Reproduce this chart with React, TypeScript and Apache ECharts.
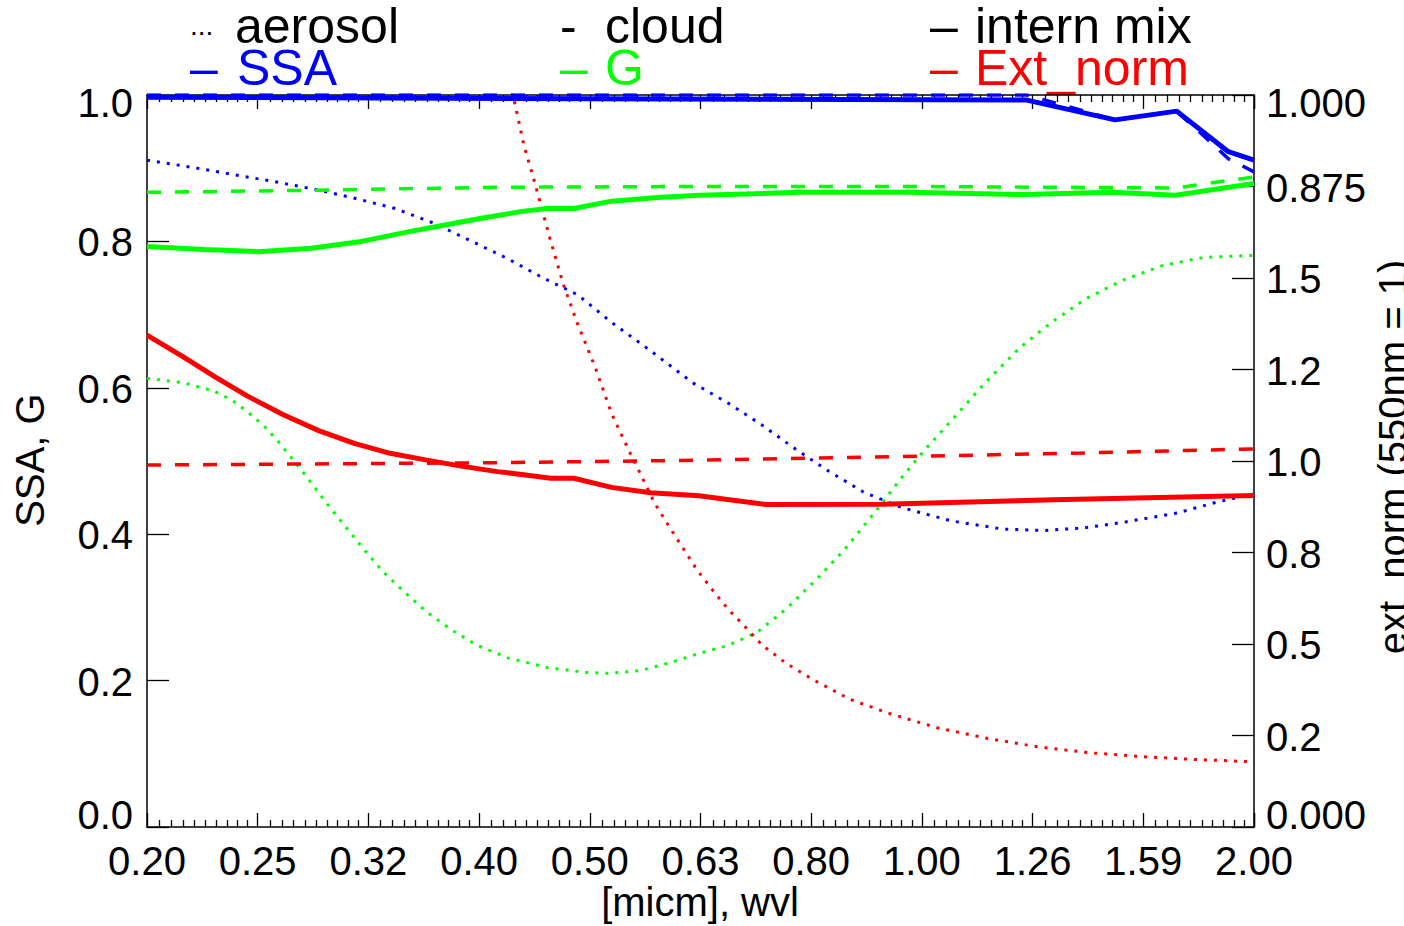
import React, { useEffect, useRef } from "react";
import * as echarts from "echarts";

// Wavelength grids [micron] and values read per curve.
// Aerosol (dotted)
const wvlAerosolSSA = [0.2, 0.22, 0.24, 0.26, 0.284, 0.308, 0.335, 0.363, 0.392, 0.424, 0.456, 0.49, 0.526, 0.572, 0.622, 0.67, 0.719, 0.771, 0.826, 0.889, 0.963, 1.067, 1.186, 1.294, 1.411, 1.534, 1.705, 1.853, 2.0];
const aerosolSSA = [0.911, 0.901, 0.891, 0.882, 0.871, 0.859, 0.845, 0.825, 0.801, 0.776, 0.75, 0.727, 0.689, 0.649, 0.607, 0.579, 0.549, 0.516, 0.486, 0.457, 0.436, 0.418, 0.407, 0.405, 0.409, 0.417, 0.429, 0.444, 0.455];

const wvlAerosolG = [0.2, 0.2155, 0.2295, 0.2382, 0.2462, 0.2547, 0.262, 0.2692, 0.2796, 0.29, 0.3016, 0.3138, 0.3266, 0.3416, 0.3584, 0.377, 0.3978, 0.4236, 0.4596, 0.4988, 0.5218, 0.5576, 0.592, 0.6304, 0.6696, 0.7116, 0.756, 0.8034, 0.8534, 0.91, 0.9594, 1.008, 1.067, 1.142, 1.227, 1.314, 1.411, 1.522, 1.654, 1.798, 2.0];
const aerosolG = [0.613, 0.607, 0.596, 0.584, 0.568, 0.549, 0.529, 0.507, 0.476, 0.444, 0.412, 0.38, 0.349, 0.321, 0.293, 0.269, 0.248, 0.231, 0.218, 0.211, 0.21, 0.2135, 0.224, 0.237, 0.248, 0.266, 0.298, 0.337, 0.379, 0.431, 0.476, 0.515, 0.556, 0.606, 0.654, 0.69, 0.722, 0.747, 0.767, 0.778, 0.781];

const wvlAerosolExt = [0.4, 0.4284, 0.438, 0.4478, 0.4624, 0.4754, 0.4896, 0.5082, 0.5256, 0.5456, 0.5598, 0.5746, 0.5874, 0.6006, 0.614, 0.628, 0.6526, 0.67, 0.6904, 0.7196, 0.756, 0.8, 0.863, 0.9346, 1.035, 1.151, 1.279, 1.422, 1.581, 1.757, 2.0];
const aerosolExt = [2.41, 1.997, 1.863, 1.763, 1.608, 1.483, 1.376, 1.255, 1.13, 1.025, 0.957, 0.886, 0.839, 0.793, 0.748, 0.702, 0.637, 0.595, 0.554, 0.496, 0.447, 0.402, 0.349, 0.311, 0.271, 0.2415, 0.2186, 0.2027, 0.1923, 0.185, 0.178];

// Cloud (dashed)
const wvlCloudSSA = [0.2, 1.247, 1.498, 1.703, 1.896, 2.0];
const cloudSSA = [1.0, 1.0, 0.966, 0.978, 0.913, 0.895];

const wvlCloudG = [0.2, 0.2858, 0.4144, 0.6304, 1.0, 1.3, 1.698, 2.0];
const cloudG = [0.867, 0.87, 0.874, 0.875, 0.875, 0.874, 0.873, 0.888];

const wvlCloudExt = [0.2, 0.4, 0.63, 1.0, 1.4, 2.0];
const cloudExt = [0.989, 0.995, 1.002, 1.013, 1.022, 1.033];

// Internal mixture (solid)
const wvlMixSSA = [0.2, 0.5, 1.247, 1.498, 1.703, 1.896, 2.0];
const mixSSA = [0.997, 0.995, 0.993, 0.966, 0.978, 0.9225, 0.911];

const wvlMixG = [0.2, 0.2253, 0.2519, 0.2815, 0.3124, 0.3442, 0.3706, 0.4022, 0.4364, 0.4596, 0.486, 0.5256, 0.5788, 0.6304, 0.776, 0.974, 1.241, 1.488, 1.698, 2.0];
const mixG = [0.793, 0.789, 0.786, 0.7906, 0.8, 0.813, 0.822, 0.832, 0.841, 0.845, 0.845, 0.855, 0.86, 0.863, 0.867, 0.867, 0.864, 0.867, 0.863, 0.879];

const wvlMixExt = [0.2, 0.2155, 0.2304, 0.2463, 0.2653, 0.2858, 0.3078, 0.3316, 0.357, 0.3846, 0.4144, 0.4396, 0.4632, 0.486, 0.5256, 0.5702, 0.6304, 0.725, 0.924, 1.318, 2.0];
const mixExt = [1.344, 1.285, 1.23, 1.178, 1.127, 1.083, 1.048, 1.021, 1.003, 0.986, 0.971, 0.962, 0.953, 0.953, 0.928, 0.913, 0.905, 0.881, 0.882, 0.894, 0.906];

// Right-axis tick labels as printed on the plot
const extTickLabels = ["0.000", "0.2", "0.5", "0.8", "1.0", "1.2", "1.5", "0.875", "1.000"];

const BLUE = "#0000ff";
const GREEN = "#00ff00";
const RED = "#ff0000";
const FONT = "Liberation Sans, Arial, Helvetica, sans-serif";

const pairs = (x: number[], y: number[]) => x.map((w, i) => [w, y[i]]);

const DOTTED = { width: 3, type: [3, 7] as number[], cap: "butt" as const };
const DASHED = { width: 3.5, type: [14, 14] as number[], cap: "butt" as const };
const SOLID = { width: 5, type: "solid" as const };

function line(name: string, data: number[][], color: string, style: any, yAxisIndex: number, z: number) {
  return {
    type: "line",
    name,
    data,
    xAxisIndex: 0,
    yAxisIndex,
    symbol: "none",
    showSymbol: false,
    silent: true,
    z,
    lineStyle: { color, ...style },
  };
}

const tickStyle = { color: "#000", width: 1.3 };
const axisLineStyle = { color: "#000", width: 1.5 };
const labelBase = { fontSize: 40, fontFamily: FONT, color: "#000" };

function xAxisCfg(position: "bottom" | "top", showLabels: boolean) {
  return {
    type: "log",
    logBase: 10,
    position,
    min: 0.2,
    max: 2.0,
    interval: 0.1,
    axisLine: { show: true, onZero: false, lineStyle: axisLineStyle },
    axisTick: { show: true, inside: true, length: 14, lineStyle: tickStyle },
    minorTick: { show: true, splitNumber: 10, length: 7, lineStyle: tickStyle },
    splitLine: { show: false },
    minorSplitLine: { show: false },
    axisLabel: {
      show: showLabels,
      ...labelBase,
      margin: 14,
      showMinLabel: true,
      showMaxLabel: true,
      hideOverlap: false,
      formatter: (v: number) => v.toFixed(2),
    },
  };
}

// End labels of both value axes sit inside the axis range
const richEnds = {
  lo: { ...labelBase, padding: [0, 0, 24, 0] },
  hi: { ...labelBase, padding: [16, 0, 0, 0] },
  mid: { ...labelBase, padding: [2, 0, 0, 0] },
};

const legendFont = { fontSize: 50, fontFamily: FONT, lineHeight: 40, align: "left", verticalAlign: "middle" };

function legendText(x: number, y: number, text: string, fill: string) {
  return { type: "text", x, y, silent: true, style: { text, fill, ...legendFont } };
}

const option = {
  animation: false,
  backgroundColor: "#ffffff",
  grid: { left: 147, right: 150, top: 95, bottom: 99, containLabel: false },
  xAxis: [xAxisCfg("bottom", true), xAxisCfg("top", false)],
  yAxis: [
    {
      type: "value",
      position: "left",
      min: 0,
      max: 1,
      interval: 0.2,
      axisLine: { show: true, onZero: false, lineStyle: axisLineStyle },
      axisTick: { show: true, inside: true, length: 22, lineStyle: tickStyle },
      splitLine: { show: false },
      axisLabel: {
        ...labelBase,
        margin: 14,
        rich: richEnds,
        formatter: (v: number) => {
          const t = v.toFixed(1);
          if (v <= 0) return `{lo|${t}}`;
          if (v >= 1) return `{hi|${t}}`;
          return `{mid|${t}}`;
        },
      },
    },
    {
      type: "value",
      position: "right",
      min: 0,
      max: 2,
      interval: 0.25,
      alignTicks: false,
      axisLine: { show: true, onZero: false, lineStyle: axisLineStyle },
      axisTick: { show: true, inside: true, length: 22, lineStyle: tickStyle },
      splitLine: { show: false },
      axisLabel: {
        ...labelBase,
        margin: 12,
        rich: richEnds,
        formatter: (v: number) => {
          const t = extTickLabels[Math.round(v / 0.25)];
          if (v <= 0) return `{lo|${t}}`;
          if (v >= 2) return `{hi|${t}}`;
          return `{mid|${t}}`;
        },
      },
    },
  ],
  series: [
    line("aerosol SSA", pairs(wvlAerosolSSA, aerosolSSA), BLUE, DOTTED, 0, 2),
    line("aerosol G", pairs(wvlAerosolG, aerosolG), GREEN, DOTTED, 0, 2),
    line("aerosol Ext_norm", pairs(wvlAerosolExt, aerosolExt), RED, DOTTED, 1, 2),
    line("cloud SSA", pairs(wvlCloudSSA, cloudSSA), BLUE, DASHED, 0, 3),
    line("cloud G", pairs(wvlCloudG, cloudG), GREEN, DASHED, 0, 3),
    line("cloud Ext_norm", pairs(wvlCloudExt, cloudExt), RED, DASHED, 1, 3),
    line("intern mix SSA", pairs(wvlMixSSA, mixSSA), BLUE, SOLID, 0, 4),
    line("intern mix G", pairs(wvlMixG, mixG), GREEN, SOLID, 0, 4),
    line("intern mix Ext_norm", pairs(wvlMixExt, mixExt), RED, SOLID, 1, 4),
  ],
  graphic: [
    // legend, first row: line styles
    { type: "text", x: 190, y: 25, silent: true, style: { text: "...", fontSize: 28, fontFamily: FONT, lineHeight: 20, fill: "#000", align: "left", verticalAlign: "middle" } },
    legendText(235, 26, "aerosol", "#000"),
    legendText(560, 26, "-", "#000"),
    legendText(605, 26, "cloud", "#000"),
    legendText(930, 26, "–", "#000"),
    legendText(975, 26, "intern mix", "#000"),
    // legend, second row: quantities
    legendText(190, 68, "–", BLUE),
    legendText(237, 68, "SSA", BLUE),
    legendText(560, 68, "–", GREEN),
    legendText(605, 68, "G", GREEN),
    legendText(930, 68, "–", RED),
    legendText(975, 68, "Ext_norm", RED),
    // axis titles
    { type: "text", x: 30, y: 460, rotation: Math.PI / 2, silent: true, style: { text: "SSA, G", fontSize: 40, fontFamily: FONT, fill: "#000", align: "center", verticalAlign: "middle" } },
    { type: "text", x: 700, y: 902, silent: true, style: { text: "[micm], wvl", fontSize: 40, fontFamily: FONT, fill: "#000", align: "center", verticalAlign: "middle" } },
    { type: "text", x: 1393, y: 457, rotation: Math.PI / 2, silent: true, style: { text: "ext_norm (550nm = 1)", fontSize: 40, fontFamily: FONT, fill: "#000", align: "center", verticalAlign: "middle" } },
  ],
};

export default function App() {
  const ref = useRef<HTMLDivElement>(null);
  useEffect(() => {
    if (!ref.current) return;
    const chart = echarts.init(ref.current, null, { renderer: "svg" });
    chart.setOption(option as any);
    return () => chart.dispose();
  }, []);
  return (
    <div
      ref={ref}
      style={{ position: "fixed", left: 0, top: 0, width: 1404, height: 926, background: "#fff" }}
    />
  );
}
